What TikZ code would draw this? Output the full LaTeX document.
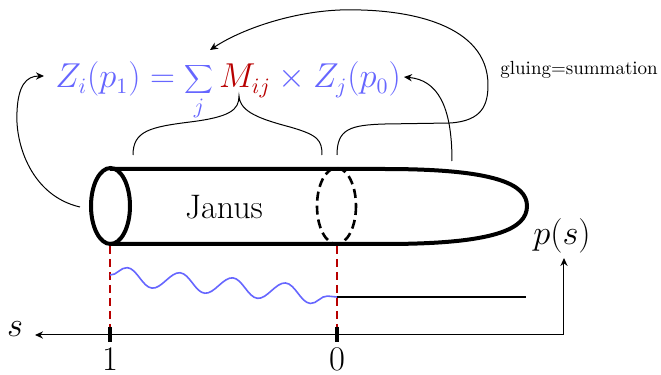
\documentclass[tikz,border=0pt]{standalone}
\usetikzlibrary{decorations.pathmorphing,arrows.meta}
\definecolor{eqblue}{rgb}{0.4,0.4,1}
\definecolor{darkred}{rgb}{0.72,0,0}
\begin{document}
\begin{tikzpicture}[x=0.5pt,y=-0.5pt,
  tip/.style={-{Stealth[length=4pt,width=3.6pt,inset=1.3pt]}},
  tube/.style={line width=2pt},
  thinarrow/.style={line width=0.5pt,tip},
  bracecurve/.style={line width=0.5pt},
  reddash/.style={darkred,line width=0.9pt,dash pattern=on 4pt off 2.5pt},
  tick/.style={line width=1.8pt},
  axis/.style={line width=0.5pt,{Stealth[length=4pt,width=3.6pt,inset=1.3pt]}-{Stealth[length=4pt,width=3.6pt,inset=1.3pt]}},
  big/.style={font=\fontsize{16}{19}\selectfont,inner sep=0pt},
  eqfont/.style={font=\fontsize{16}{19}\selectfont,inner sep=0pt},
  small/.style={font=\fontsize{9.5}{11}\selectfont,inner sep=0pt}]
\useasboundingbox (0,0) rectangle (661,375);

% equation
\node[eqfont,anchor=base west] (eq) at (55,88)
  {$\displaystyle \color{eqblue}Z_i(p_1)=\sum_j \color{darkred}M_{ij}\color{eqblue}\times Z_j(p_0)$};
\node[small,anchor=base west] (glue) at (500,75) {gluing=summation};

% tube
\draw[tube] (110,169) -- (385,169) .. controls (495,169) and (527,184) .. (527,206)
  .. controls (527,229) and (495,244) .. (385,244) -- (110,244);
\draw[tube] (110.5,206) ellipse [x radius=19.5, y radius=38];
\draw[line width=1.3pt,dash pattern=on 4.5pt off 2.5pt] (336.5,206) ellipse [x radius=19.5, y radius=38];
\node[big,anchor=base,font=\fontsize{17}{20}\selectfont] (janus) at (224,219) {Janus};

% coordinates
\coordinate (lstart) at (80,207);
\coordinate (ltip) at (44,76);
\coordinate (rstart) at (452,161);
\coordinate (rtip) at (404,77);
\coordinate (gstart) at (337,155);
\coordinate (gtip) at (210,50);
\coordinate (b1l) at (133,155);
\coordinate (b1t) at (239,96);
\coordinate (b1r) at (322,155);

% arrows to equation
\draw[thinarrow] (lstart) .. controls (32,196) and (15,145) .. (17,112)
  .. controls (18,86) and (26,76) .. (ltip);
\draw[thinarrow] (rstart) .. controls (452,105) and (437,80) .. (rtip);
\draw[thinarrow] (gstart) .. controls (337,129) and (350,125) .. (385,124)
  -- (450,123) .. controls (482,121) and (488,105) .. (488,85)
  .. controls (488,25) and (410,8) .. (340,10)
  .. controls (290,12) and (240,30) .. (gtip);

% brace
\draw[bracecurve] (b1l) .. controls (133,131) and (150,127) .. (190,122)
  .. controls (230,117) and (239,110) .. (b1t)
  .. controls (240,112) and (260,119) .. (290,127)
  .. controls (318,135) and (322,140) .. (b1r);

% axis
\coordinate (sx) at (35,335);
\coordinate (py) at (564,258);
\draw[reddash] (110,246) -- (110,327);
\draw[reddash] (337,246) -- (337,327);
\draw[axis] (sx) -| (py);
\draw[tick] (110,327) -- (110,342);
\draw[tick] (337,327) -- (337,342);
\node[big,anchor=base] (slab) at (15,336) {$s$};
\node[big,anchor=base] (one) at (110,370.5) {$1$};
\node[big,anchor=base] (zero) at (337,370.5) {$0$};
\node[big,anchor=base] (ps) at (562,245) {$p(s)$};

% wave and line
\coordinate (w1) at (110,275);
\coordinate (w2) at (337,297);
\coordinate (w3) at (526,297);
\draw[eqblue,line width=0.8pt,decorate,decoration={snake,segment length=26.5pt,amplitude=4.5pt}] (w1) -- (w2);
\draw[line width=1pt] (w2) -- (w3);
\end{tikzpicture}
\end{document}
